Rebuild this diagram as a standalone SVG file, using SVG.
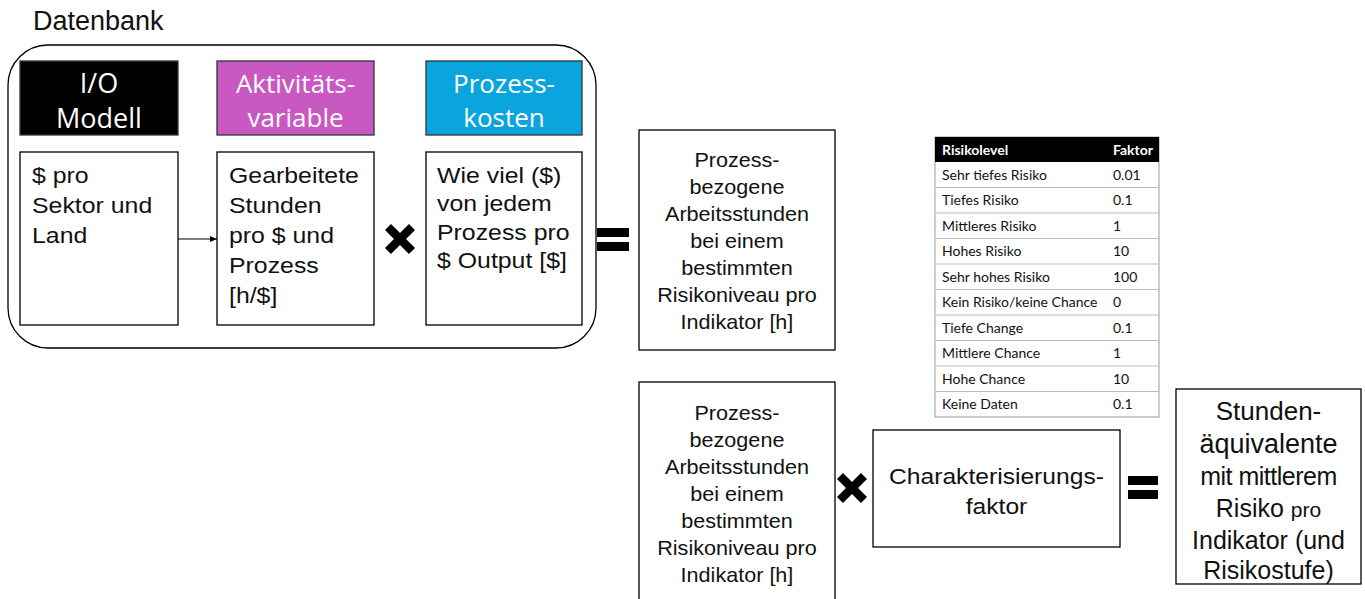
<svg xmlns="http://www.w3.org/2000/svg" width="1365" height="599" viewBox="0 0 1365 599">
<style>
.box{fill:#fff;stroke:#000;stroke-width:1.3}
.hb{stroke:#333;stroke-width:1.3}
.t{font-family:"Liberation Sans",Arial,sans-serif;font-size:22px;fill:#111}
.m{text-anchor:middle;font-size:20px}
.h{font-family:"Open Sans","Noto Sans",sans-serif;font-size:26px;fill:#fff;text-anchor:middle}
.tb{font-family:Lato,"Open Sans",sans-serif;font-size:14px;fill:#111}
.tbh{font-weight:bold;fill:#fff}
.rl{stroke:#bbb;stroke-width:1}
.op{fill:#000}
</style>
<defs>
<marker id="ah" markerWidth="8" markerHeight="8" refX="7" refY="4" orient="auto" markerUnits="userSpaceOnUse">
<path d="M0,1 L7,4 L0,7 Z" fill="#000"/>
</marker>
<g id="mul"><path d="M-9,-9 L9,9 M-9,9 L9,-9" stroke="#000" stroke-width="8.5" stroke-linecap="square"/></g>
</defs>
<rect width="1365" height="599" fill="#fff"/>

<g id="datenbank">
<text x="33" y="30" class="t" style="font-size:27px">Datenbank</text>
<rect x="8" y="45" width="588" height="303" rx="40" ry="40" fill="none" stroke="#000" stroke-width="1.3"/>
</g>

<g id="io-header">
<rect x="20" y="61" width="158" height="74" fill="#000" class="hb"/>
<text x="99" y="93" class="h" style="font-size:27px">I/O</text>
<text x="99" y="128" class="h" style="font-size:27px">Modell</text>
</g>
<g id="akt-header">
<rect x="217" y="61" width="157" height="74" fill="#C958C2" class="hb"/>
<text x="295.5" y="93" class="h">Aktivitäts-</text>
<text x="295.5" y="127" class="h">variable</text>
</g>
<g id="pk-header">
<rect x="426" y="61" width="156" height="74" fill="#0BA5DE" class="hb"/>
<text x="504" y="93" class="h">Prozess-</text>
<text x="504" y="127" class="h">kosten</text>
</g>

<g id="io-box">
<rect x="20" y="152" width="158" height="173" class="box"/>
<text class="t" transform="matrix(1.13,0,0,1,-4.16,0)"><tspan x="32" y="183">$ pro</tspan><tspan x="32" y="213">Sektor und</tspan><tspan x="32" y="243">Land</tspan></text>
</g>
<g id="akt-box">
<rect x="217" y="152" width="157" height="173" class="box"/>
<text class="t" transform="matrix(1.13,0,0,1,-29.77,0)"><tspan x="229" y="183">Gearbeitete</tspan><tspan x="229" y="213">Stunden</tspan><tspan x="229" y="243">pro $ und</tspan><tspan x="229" y="273">Prozess</tspan><tspan x="229" y="303">[h/$]</tspan></text>
</g>
<g id="pk-box">
<rect x="426" y="152" width="156" height="173" class="box"/>
<text class="t" transform="matrix(1.13,0,0,1,-56.81,0)"><tspan x="437" y="183">Wie viel ($)</tspan><tspan x="437" y="211">von jedem</tspan><tspan x="437" y="240">Prozess pro</tspan><tspan x="437" y="268">$ Output [$]</tspan></text>
</g>

<g id="hours-box">
<rect x="639" y="130" width="196" height="220" class="box"/>
<text class="t m" transform="matrix(1.08,0,0,1,-58.96,0)"><tspan x="737" y="167">Prozess-</tspan><tspan x="737" y="194">bezogene</tspan><tspan x="737" y="221">Arbeitsstunden</tspan><tspan x="737" y="248">bei einem</tspan><tspan x="737" y="275">bestimmten</tspan><tspan x="737" y="302">Risikoniveau pro</tspan><tspan x="737" y="329">Indikator [h]</tspan></text>
</g>

<g id="table">
<rect x="935" y="137" width="224" height="280" fill="#fff" stroke="#999" stroke-width="1"/>
<rect x="935" y="137" width="224" height="25" fill="#000"/>
<g class="rl">
<line x1="935" y1="187.5" x2="1159" y2="187.5"/>
<line x1="935" y1="213" x2="1159" y2="213"/>
<line x1="935" y1="238.5" x2="1159" y2="238.5"/>
<line x1="935" y1="264" x2="1159" y2="264"/>
<line x1="935" y1="289.5" x2="1159" y2="289.5"/>
<line x1="935" y1="315" x2="1159" y2="315"/>
<line x1="935" y1="340.5" x2="1159" y2="340.5"/>
<line x1="935" y1="366" x2="1159" y2="366"/>
<line x1="935" y1="391.5" x2="1159" y2="391.5"/>
</g>
<text class="tb tbh" x="942" y="155">Risikolevel</text>
<text class="tb tbh" x="1113" y="155">Faktor</text>
<text class="tb" x="942" y="180">Sehr tiefes Risiko</text><text class="tb" x="1113" y="180">0.01</text>
<text class="tb" x="942" y="205">Tiefes Risiko</text><text class="tb" x="1113" y="205">0.1</text>
<text class="tb" x="942" y="231">Mittleres Risiko</text><text class="tb" x="1113" y="231">1</text>
<text class="tb" x="942" y="256">Hohes Risiko</text><text class="tb" x="1113" y="256">10</text>
<text class="tb" x="942" y="282">Sehr hohes Risiko</text><text class="tb" x="1113" y="282">100</text>
<text class="tb" x="942" y="307">Kein Risiko/keine Chance</text><text class="tb" x="1113" y="307">0</text>
<text class="tb" x="942" y="333">Tiefe Change</text><text class="tb" x="1113" y="333">0.1</text>
<text class="tb" x="942" y="358">Mittlere Chance</text><text class="tb" x="1113" y="358">1</text>
<text class="tb" x="942" y="384">Hohe Chance</text><text class="tb" x="1113" y="384">10</text>
<text class="tb" x="942" y="409">Keine Daten</text><text class="tb" x="1113" y="409">0.1</text>
</g>

<g id="hours-box-2">
<rect x="639" y="382" width="196" height="230" class="box"/>
<text class="t m" transform="matrix(1.08,0,0,1,-58.96,0)"><tspan x="737" y="420">Prozess-</tspan><tspan x="737" y="447">bezogene</tspan><tspan x="737" y="474">Arbeitsstunden</tspan><tspan x="737" y="501">bei einem</tspan><tspan x="737" y="528">bestimmten</tspan><tspan x="737" y="555">Risikoniveau pro</tspan><tspan x="737" y="582">Indikator [h]</tspan></text>
</g>

<g id="char-box">
<rect x="873" y="430" width="247" height="117" class="box"/>
<text class="t" text-anchor="middle" style="font-size:22px" transform="matrix(1.12,0,0,1,-119.58,0)"><tspan x="996.5" y="484">Charakterisierungs-</tspan><tspan x="996.5" y="514">faktor</tspan></text>
</g>

<g id="result-box">
<rect x="1176" y="389" width="185" height="195" class="box"/>
<text class="t" text-anchor="middle" style="font-size:25px"><tspan x="1268.5" y="420" style="font-size:26px">Stunden-</tspan><tspan x="1268.5" y="453" style="font-size:27px">äquivalente</tspan><tspan x="1268.5" y="485" letter-spacing="-0.5">mit mittlerem</tspan><tspan x="1268.5" y="517">Risiko <tspan style="font-size:21px">pro</tspan></tspan><tspan x="1268.5" y="549">Indikator (und</tspan><tspan x="1268.5" y="579">Risikostufe)</tspan></text>
</g>

<g id="connectors">
<line x1="178" y1="239" x2="217" y2="239" stroke="#000" stroke-width="1.2" marker-end="url(#ah)"/>
<use href="#mul" x="400" y="239"/>
<rect x="597" y="228" width="32" height="9" class="op"/>
<rect x="597" y="242" width="32" height="9" class="op"/>
<use href="#mul" x="852" y="488"/>
<rect x="1128" y="476" width="30" height="9" class="op"/>
<rect x="1128" y="490" width="30" height="9" class="op"/>
</g>
</svg>
